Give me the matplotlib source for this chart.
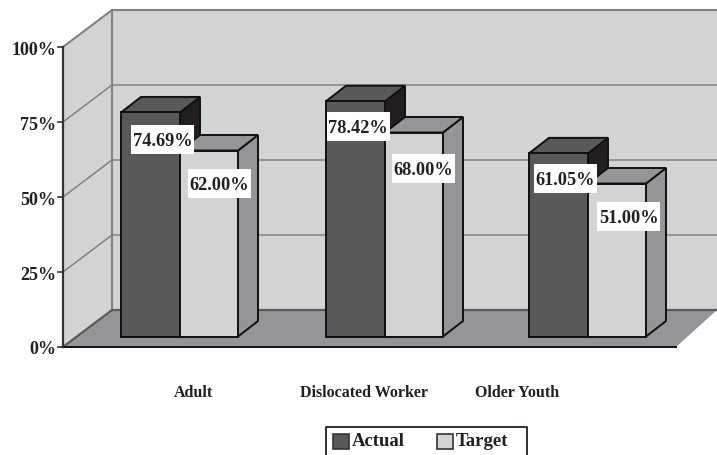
import matplotlib
matplotlib.use("Agg")
import matplotlib.pyplot as plt
from matplotlib.patches import Polygon, Rectangle

categories = ["Adult", "Dislocated Worker", "Older Youth"]
actual = [74.69, 78.42, 61.05]
target = [62.00, 68.00, 51.00]
y_ticks = [0, 25, 50, 75, 100]

WALL = "#d1d3d4"
FLOOR = "#939598"
DARK = "#58595b"
DARK_SIDE = "#231f20"
EDGE = "#111111"
GRID = "#808285"

plt.rcParams["font.family"] = ["Liberation Serif", "DejaVu Serif"]

W, H = 717, 455
fig = plt.figure(figsize=(W / 100, H / 100), dpi=100)
ax = fig.add_axes([0, 0, 1, 1])

# x runs in figure pixels, y runs in percent (bars stand on y=0)
PX = 3.0            # pixels per percent
BASE = 336.5        # pixel row of the bar baseline
ax.set_xlim(0, W)
ax.set_ylim((BASE - H) / PX, BASE / PX)
ax.axis("off")


def row(p):
    # pixel row to y value, for the box walls and text
    return (BASE - p) / PX


# box geometry
x_front, x_back, x_floor_end = 63, 112, 676
front_base, back_base = row(347), row(310)
depth = 15.5 / PX
bar_dx = 20

# walls and floor
ax.add_patch(Polygon([(x_back, back_base), (x_back, back_base + 100), (W, back_base + 100), (W, back_base)],
                     fc=WALL, ec="none", zorder=1))
ax.add_patch(Polygon([(x_front, front_base), (x_front, front_base + 100), (x_back, back_base + 100), (x_back, back_base)],
                     fc=WALL, ec="none", zorder=1))
ax.add_patch(Polygon([(x_front, front_base), (x_floor_end, front_base), (W, back_base), (x_back, back_base)],
                     fc=FLOOR, ec="none", zorder=2))

# gridlines on the back and side walls
for t in y_ticks[1:-1]:
    ax.plot([x_front, x_back, W], [front_base + t, back_base + t, back_base + t], color=GRID, lw=1.1, zorder=2)
ax.plot([x_front, x_back, W], [front_base + 100, back_base + 100, back_base + 100], color=GRID, lw=1.5, zorder=2)
ax.plot([x_front, x_back, W], [front_base, back_base, back_base], color="#58595b", lw=1.6, zorder=3)
ax.plot([x_back, x_back], [back_base, back_base + 100], color=GRID, lw=1.5, zorder=2)

# value axis and floor front edge
ax.plot([x_front, x_front], [front_base, front_base + 100], color="#333333", lw=1.6, zorder=4)
ax.plot([x_front, x_floor_end], [front_base, front_base], color=EDGE, lw=1.4, zorder=4)
for t in y_ticks:
    ax.plot([x_front - 5, x_front], [front_base + t, front_base + t], color="#333333", lw=1.2, zorder=4)
    ax.text(56, front_base + t - 1, f"{t}%", ha="right", va="center", fontsize=13, fontweight="bold", color="#231f20")


def bar3d(x0, x1, v, front, top, side):
    kw = dict(ec=EDGE, lw=1.4, joinstyle="miter", zorder=5)
    ax.add_patch(Polygon([(x1, 0), (x1 + bar_dx, depth), (x1 + bar_dx, v + depth), (x1, v)], fc=side, **kw))
    ax.add_patch(Polygon([(x0, v), (x0 + bar_dx, v + depth), (x1 + bar_dx, v + depth), (x1, v)], fc=top, **kw))
    ax.add_patch(Rectangle((x0, 0), x1 - x0, v, fc=front, **kw))


group_left = [121, 326, 529]
bar_w = 59
cat_x = [193, 363.5, 517.5]
actual_label_x = [162.5, 358, 565.5]
actual_label_drop = [27, 25, 25.5]
target_label_x = [219.5, 423, 628.5]
target_label_drop = [33, 36, 32.5]

for i, cat in enumerate(categories):
    x0 = group_left[i]
    # actual first, the target bar sits in front of its dark side
    bar3d(x0, x0 + bar_w, actual[i], DARK, DARK, DARK_SIDE)
    bar3d(x0 + bar_w, x0 + 2 * bar_w - 1, target[i], WALL, FLOOR, FLOOR)
    ax.text(cat_x[i], row(393), cat, ha="center", va="center", fontsize=11.5, fontweight="bold", color="#231f20")

for i in range(len(categories)):
    for val, lx, drop in [(actual[i], actual_label_x[i], actual_label_drop[i]),
                          (target[i], target_label_x[i], target_label_drop[i])]:
        yc = val - drop / PX
        ax.add_patch(Rectangle((lx - 31.5, yc - 14.5 / PX), 63, 29 / PX, fc="white", ec="none", zorder=6))
        ax.text(lx, yc - 2 / PX, f"{val:.2f}%", ha="center", va="center", fontsize=13.2, fontweight="bold",
                color="#231f20", zorder=7)

# legend box runs off the bottom of the figure
ax.plot([326, 326, 527, 527], [row(456), row(427), row(427), row(456)], color="#231f20", lw=1.3, zorder=4)
legend_names = ["Actual", "Target"]
legend_colors = [DARK, WALL]
legend_x = [333, 437]
for name, c, lx in zip(legend_names, legend_colors, legend_x):
    ax.add_patch(Rectangle((lx, row(449)), 16, 15 / PX, fc=c, ec="#333333", lw=1.2, zorder=4))
    ax.text(lx + 19, row(441), name, ha="left", va="center", fontsize=13.5, fontweight="bold", color="#231f20")

fig.savefig("out.png", dpi=100)
